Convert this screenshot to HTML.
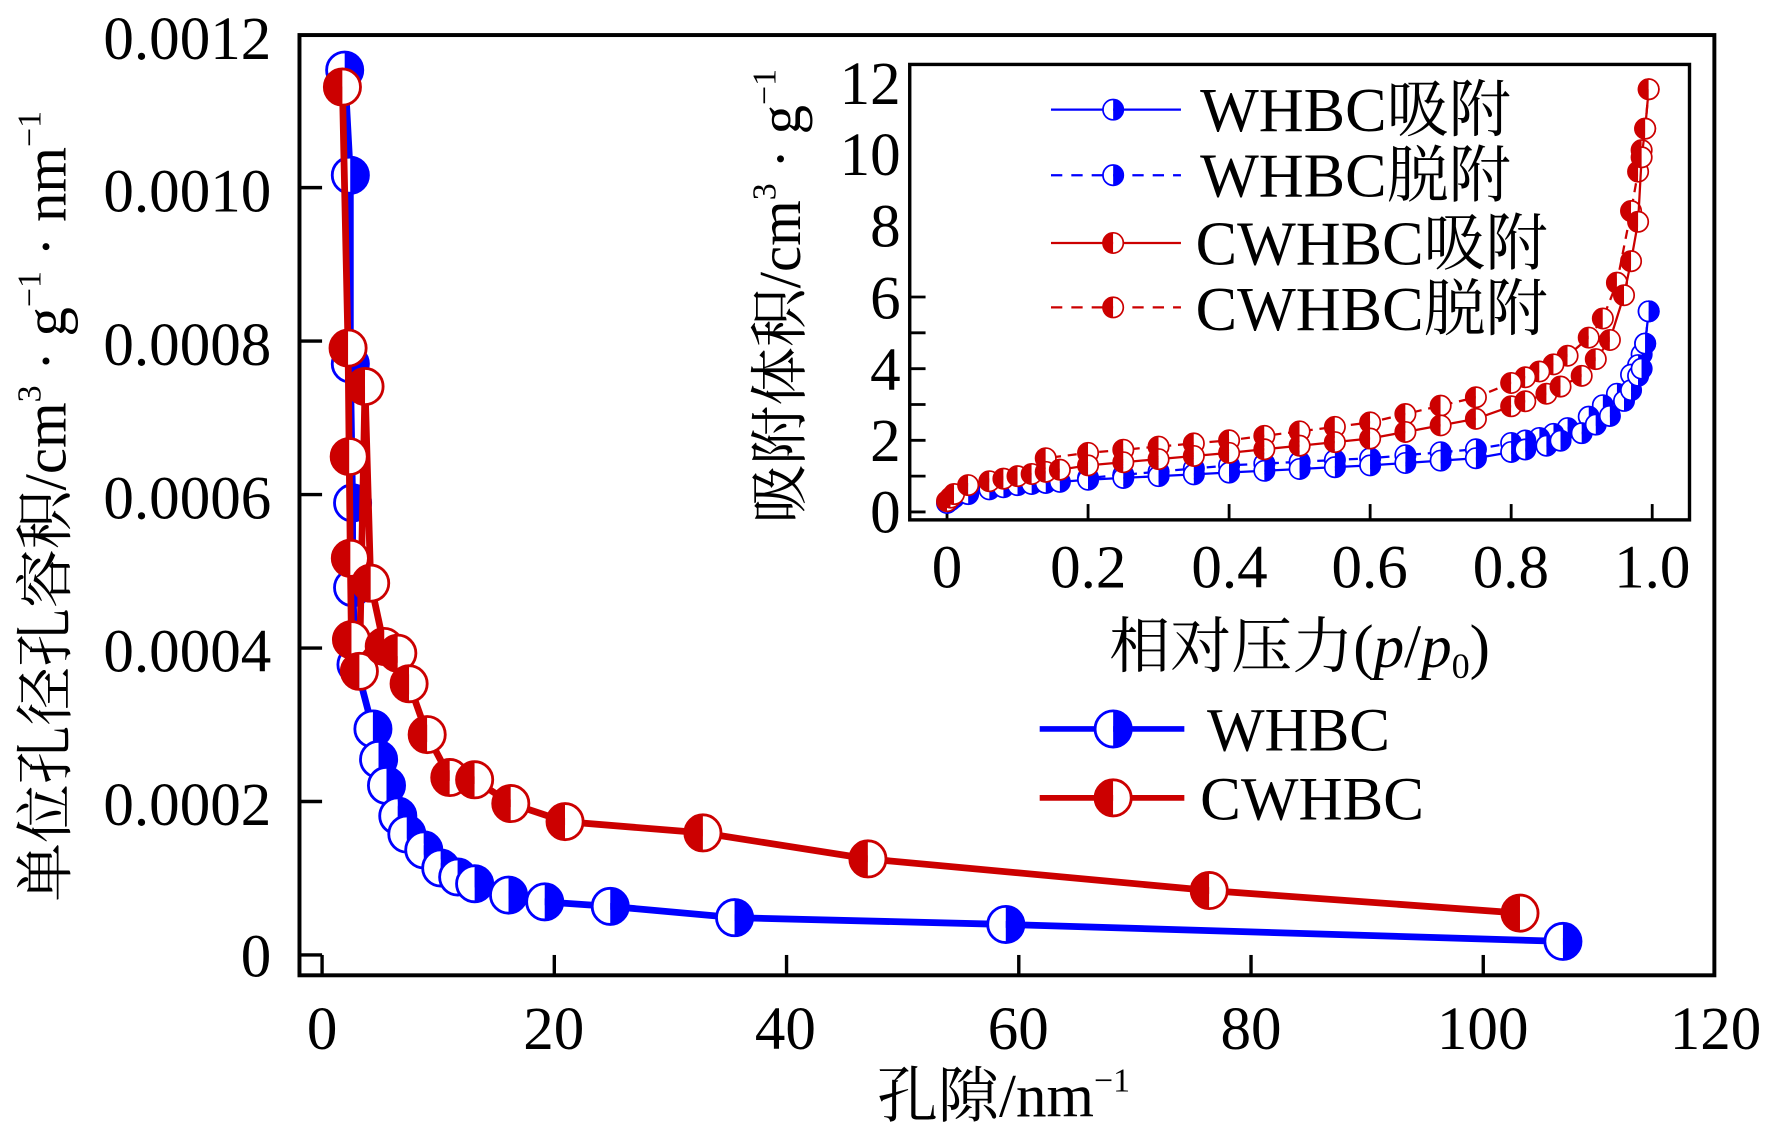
<!DOCTYPE html>
<html><head><meta charset="utf-8"><style>
html,body{margin:0;padding:0;background:#fff;}
svg{display:block;}
text{font-family:"Liberation Serif","Noto Serif CJK SC",serif;fill:#000;}
</style></head><body>
<svg id="s" width="1772" height="1134" viewBox="0 0 1568 1003.4" xmlns="http://www.w3.org/2000/svg">
<rect x="0" y="0" width="1568" height="1004" fill="#fff"/>
<rect x="265" y="31" width="1252" height="832" fill="none" stroke="#000" stroke-width="3.5"/>
<g id="mainticks" stroke="#000" stroke-width="3"></g>
<g font-size="54">
<text x="240" y="52" text-anchor="end">0.0012</text>
<text x="240" y="187" text-anchor="end">0.0010</text>
<text x="240" y="323" text-anchor="end">0.0008</text>
<text x="240" y="459" text-anchor="end">0.0006</text>
<text x="240" y="594" text-anchor="end">0.0004</text>
<text x="240" y="730" text-anchor="end">0.0002</text>
<text x="240" y="864" text-anchor="end">0</text>
<text x="285" y="928" text-anchor="middle">0</text>
<text x="490" y="928" text-anchor="middle">20</text>
<text x="695" y="928" text-anchor="middle">40</text>
<text x="901" y="928" text-anchor="middle">60</text>
<text x="1107" y="928" text-anchor="middle">80</text>
<text x="1312" y="928" text-anchor="middle">100</text>
<text x="1518" y="928" text-anchor="middle">120</text>
</g>
<text x="888" y="988" font-size="54" text-anchor="middle">孔隙/nm<tspan dy="-22" font-size="30">−1</tspan></text>
<text transform="translate(58,448) rotate(-90)" font-size="52" text-anchor="middle">单位孔径孔容积/cm<tspan dy="-22" font-size="30">3</tspan><tspan dy="22"> · g</tspan><tspan dy="-22" font-size="30">−1</tspan><tspan dy="22"> · nm</tspan><tspan dy="-22" font-size="30">−1</tspan></text>
<g id="mainser"></g>
<line x1="920" y1="645" x2="1048" y2="645" stroke="#0000ff" stroke-width="5"/>
<line x1="920" y1="706" x2="1048" y2="706" stroke="#cc0000" stroke-width="5"/>
<g id="mleg"></g>
<text x="1068" y="664" font-size="54">WHBC</text>
<text x="1062" y="725" font-size="54">CWHBC</text>
<rect x="805" y="57" width="690" height="403" fill="none" stroke="#000" stroke-width="3"/>
<g id="insticks" stroke="#000" stroke-width="2.5"></g>
<g font-size="54">
<text x="797" y="92" text-anchor="end">12</text>
<text x="797" y="155" text-anchor="end">10</text>
<text x="797" y="218" text-anchor="end">8</text>
<text x="797" y="282" text-anchor="end">6</text>
<text x="797" y="345" text-anchor="end">4</text>
<text x="797" y="408" text-anchor="end">2</text>
<text x="797" y="471" text-anchor="end">0</text>
<text x="838" y="520" text-anchor="middle">0</text>
<text x="963" y="520" text-anchor="middle">0.2</text>
<text x="1088" y="520" text-anchor="middle">0.4</text>
<text x="1212" y="520" text-anchor="middle">0.6</text>
<text x="1337" y="520" text-anchor="middle">0.8</text>
<text x="1462" y="520" text-anchor="middle">1.0</text>
</g>
<text x="1150" y="590" font-size="54" text-anchor="middle">相对压力(<tspan font-style="italic">p</tspan>/<tspan font-style="italic">p</tspan><tspan dy="10" font-size="32">0</tspan><tspan dy="-10">)</tspan></text>
<text transform="translate(708,262) rotate(-90)" font-size="52" text-anchor="middle">吸附体积/cm<tspan dy="-22" font-size="30">3</tspan><tspan dy="22"> · g</tspan><tspan dy="-22" font-size="30">−1</tspan></text>
<g id="insser"></g>
<g id="ileg"></g>
<g font-size="55">
<text x="1062" y="116">WHBC吸附</text>
<text x="1062" y="174">WHBC脱附</text>
<text x="1058" y="234">CWHBC吸附</text>
<text x="1058" y="292">CWHBC脱附</text>
</g>
</svg>
<script>
var NS="http://www.w3.org/2000/svg";
function el(p,t,a){var e=document.createElementNS(NS,t);for(var k in a)e.setAttribute(k,a[k]);document.getElementById(p).appendChild(e);return e;}
function mk(p,x,y,r,c,lf,sw){
  var d1="M"+x+","+(y-r)+" A"+r+","+r+" 0 0 0 "+x+","+(y+r)+" Z";
  var d2="M"+x+","+(y-r)+" A"+r+","+r+" 0 0 1 "+x+","+(y+r)+" Z";
  el(p,"path",{d:d1,fill:lf?c:"#fff"});
  el(p,"path",{d:d2,fill:lf?"#fff":c});
  el(p,"circle",{cx:x,cy:y,r:r,fill:"none",stroke:c,"stroke-width":sw});
}
[0,20,40,60,80,100].forEach(function(v){var x=285+v*10.275;el("mainticks","line",{x1:x,y1:863,x2:x,y2:845});});
for(var i=0;i<=5;i++){var y=845-i*135.8;el("mainticks","line",{x1:265,y1:y,x2:285,y2:y});}
var blue=[[305,62],[310,155],[310,322],[312,445],[312,520],[315,588],[330,645],[335,672],[342,695],[352,722],[360,738],[375,752],[390,768],[405,776],[420,782],[450,792],[482,798],[540,802],[650,812],[890,818],[1383,833]];
var red=[[303,77],[308,308],[309,404],[310,494],[311,566],[318,594],[323,342],[328,516],[340,572],[352,578],[362,605],[378,650],[398,688],[420,690],[452,711],[500,727],[622,737],[768,760],[1070,788],[1345,808]];
function pl(a){return a.map(function(p){return p.join(",")}).join(" ");}
el("mainser","polyline",{points:pl(blue),fill:"none",stroke:"#0000ff","stroke-width":6});
blue.forEach(function(p){mk("mainser",p[0],p[1],16,"#0000ff",false,2.5);});
el("mainser","polyline",{points:pl(red),fill:"none",stroke:"#cc0000","stroke-width":6});
red.forEach(function(p){mk("mainser",p[0],p[1],16,"#cc0000",true,2.5);});
mk("mleg",985,645,16,"#0000ff",false,2.5);
mk("mleg",985,706,16,"#cc0000",true,2.5);
for(var i=0;i<=5;i++){var x=838+i*124.8;el("insticks","line",{x1:x,y1:460,x2:x,y2:446});}
for(var i=0;i<=6;i++){var y=453-i*31.7;el("insticks","line",{x1:805,y1:y,x2:819,y2:y});}
function X(p){return 838+p*624;} function Y(v){return 453-v*31.7;}
function interp(t,p){for(var i=0;i<t.length-1;i++){if(p<=t[i+1][0]){var a=t[i],b=t[i+1];return a[1]+(b[1]-a[1])*(p-a[0])/(b[0]-a[0]);}}return t[t.length-1][1];}
var wA=[[0,0.25],[0.01,0.4],[0.05,0.6],[0.1,0.75],[0.2,0.9],[0.4,1.1],[0.6,1.3],[0.75,1.5],[0.85,1.85],[0.9,2.2],[0.95,2.8],[0.97,3.4],[0.985,4.0],[0.99,4.7],[0.995,5.6]];
var wD=[[0.2,0.95],[0.4,1.3],[0.6,1.5],[0.75,1.75],[0.85,2.1],[0.9,2.5],[0.95,3.3],[0.98,4.1],[0.99,4.7],[0.995,5.6]];
var cA=[[0,0.3],[0.01,0.5],[0.03,0.75],[0.1,1.0],[0.2,1.3],[0.4,1.65],[0.6,2.05],[0.75,2.6],[0.85,3.3],[0.9,3.8],[0.93,4.5],[0.95,5.1],[0.97,7.0],[0.98,8.1],[0.985,9.9],[0.99,10.7],[0.995,11.8]];
var cD=[[0.14,1.5],[0.2,1.65],[0.4,2.0],[0.6,2.5],[0.75,3.2],[0.85,4.0],[0.9,4.6],[0.93,5.4],[0.95,6.4],[0.97,8.4],[0.98,9.5],[0.99,10.7],[0.995,11.8]];
var pA=[0,0.005,0.01,0.03,0.06,0.08,0.1,0.12,0.14,0.16,0.2,0.25,0.3,0.35,0.4,0.45,0.5,0.55,0.6,0.65,0.7,0.75,0.8,0.82,0.85,0.87,0.9,0.92,0.94,0.96,0.97,0.98,0.985,0.99,0.995];
var pD=[0.995,0.99,0.985,0.98,0.97,0.95,0.93,0.91,0.88,0.86,0.84,0.82,0.8,0.75,0.7,0.65,0.6,0.55,0.5,0.45,0.4,0.35,0.3,0.25,0.2,0.14];
function ser(tab,ps,c,dash,lf){
  var pts=ps.filter(function(p){return p>=tab[0][0];}).map(function(p){return [X(p),Y(interp(tab,p))];});
  var a={points:pl(pts),fill:"none",stroke:c,"stroke-width":2};if(dash)a["stroke-dasharray"]="8,6";
  el("insser","polyline",a);
  pts.forEach(function(p){mk("insser",p[0],p[1],9,c,lf,1.5);});
}
ser(wD,pD,"#0000ff",true,false);
ser(wA,pA,"#0000ff",false,false);
ser(cD,pD,"#cc0000",true,true);
ser(cA,pA,"#cc0000",false,true);
var L=[[97,"#0000ff",false,false],[155,"#0000ff",true,false],[215,"#cc0000",false,true],[272,"#cc0000",true,true]];
L.forEach(function(l){var a={x1:930,y1:l[0],x2:1045,y2:l[0],stroke:l[1],"stroke-width":2};if(l[2])a["stroke-dasharray"]="10,8";el("ileg","line",a);mk("ileg",985,l[0],9,l[1],l[3],1.5);});
</script>
</body></html>
